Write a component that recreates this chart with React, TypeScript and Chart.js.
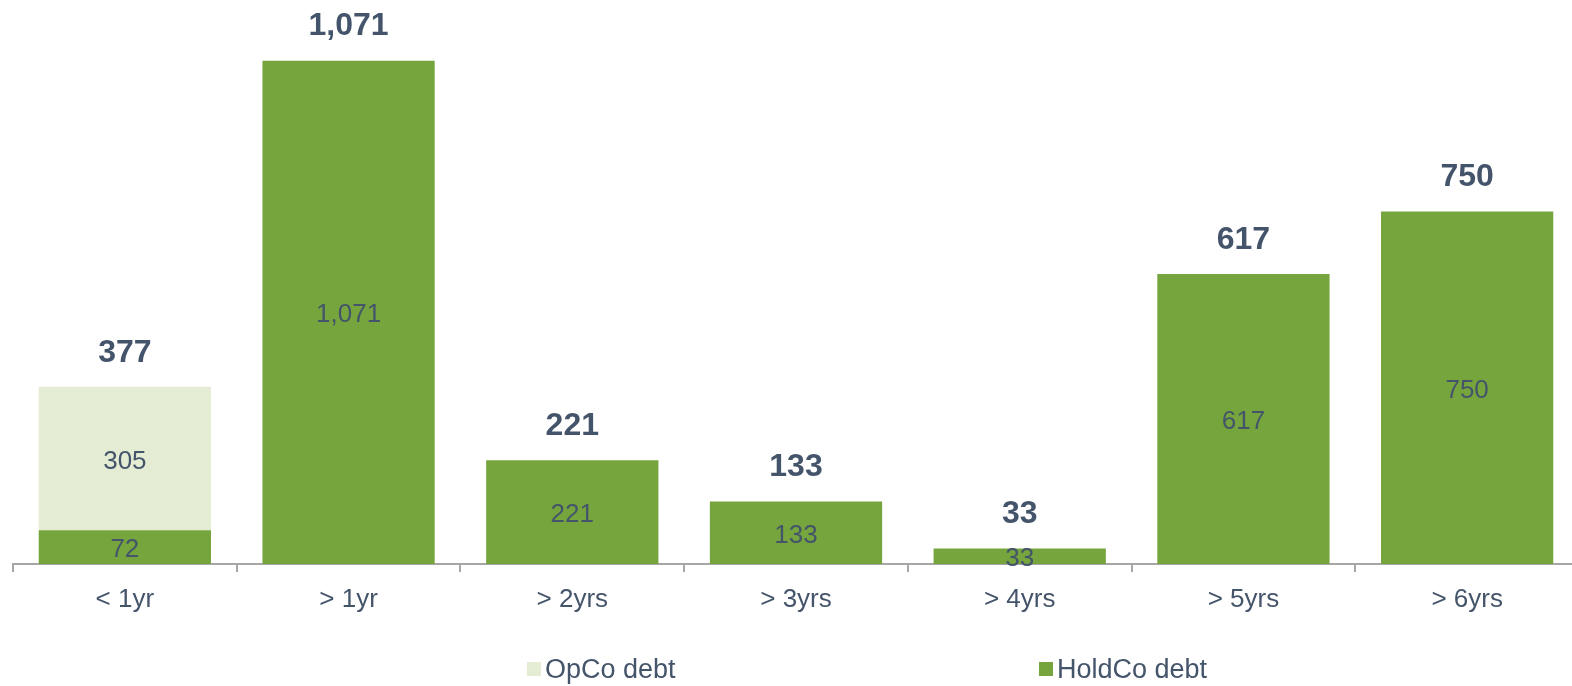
import React, { useEffect, useRef } from "react";
import { Chart, registerables } from "chart.js";

Chart.register(...registerables);

const categories = ["< 1yr", "> 1yr", "> 2yrs", "> 3yrs", "> 4yrs", "> 5yrs", "> 6yrs"];
const opcoDebt = [305, 0, 0, 0, 0, 0, 0];
const holdcoDebt = [72, 1071, 221, 133, 33, 617, 750];
const legendLabels = ["OpCo debt", "HoldCo debt"];

const GREEN = "#76a53d";
const LIGHT = "#e4ecd4";
const TEXT = "#44546a";
const AXIS = "#a6a6a6";
const FONT = "'Liberation Sans', Arial, sans-serif";

const fmt = (v: number) => v.toLocaleString("en-US");

const labelPlugin = {
  id: "barLabels",
  afterDatasetsDraw(chart: any) {
    const ctx = chart.ctx;
    ctx.save();
    ctx.textAlign = "center";
    ctx.textBaseline = "middle";
    ctx.fillStyle = TEXT;
    ctx.font = `26px ${FONT}`;
    chart.data.datasets.forEach((ds: any, di: number) => {
      const meta = chart.getDatasetMeta(di);
      meta.data.forEach((bar: any, i: number) => {
        const v = ds.data[i];
        if (!v) return;
        const top = bar.y;
        const bottom = bar.base;
        ctx.fillText(fmt(v), bar.x, (top + bottom) / 2 + 3);
      });
    });
    ctx.font = `bold 32px ${FONT}`;
    const yScale = chart.scales.y;
    const meta0 = chart.getDatasetMeta(0);
    categories.forEach((_, i) => {
      const total = opcoDebt[i] + holdcoDebt[i];
      const x = meta0.data[i].x;
      const y = yScale.getPixelForValue(total) - 34;
      ctx.fillText(fmt(total), x, y);
    });
    ctx.restore();
  },
  afterDraw(chart: any) {
    const ctx = chart.ctx;
    ctx.save();
    const items = [
      { label: legendLabels[0], color: LIGHT, x: 527 },
      { label: legendLabels[1], color: GREEN, x: 1039 },
    ];
    const cy = 669;
    ctx.font = `27px ${FONT}`;
    ctx.textBaseline = "middle";
    ctx.textAlign = "left";
    items.forEach((it) => {
      ctx.fillStyle = it.color;
      ctx.fillRect(it.x, cy - 7, 14, 14);
      ctx.fillStyle = TEXT;
      ctx.fillText(it.label, it.x + 18, cy + 2);
    });
    ctx.restore();
  },
};

export default function App() {
  const ref = useRef<HTMLCanvasElement>(null);
  useEffect(() => {
    if (!ref.current) return;
    const chart = new Chart(ref.current, {
      type: "bar",
      data: {
        labels: categories,
        datasets: [
          { label: legendLabels[1], data: holdcoDebt, backgroundColor: GREEN },
          { label: legendLabels[0], data: opcoDebt, backgroundColor: LIGHT },
        ],
      },
      options: {
        animation: false,
        responsive: false,
        maintainAspectRatio: false,
        layout: { padding: { left: 13, right: 21, top: 0, bottom: 0 } },
        plugins: {
          legend: { display: false },
          tooltip: { enabled: false },
        },
        datasets: {
          bar: { categoryPercentage: 1, barPercentage: 0.77 },
        },
        scales: {
          x: {
            stacked: true,
            grid: {
              offset: true,
              drawOnChartArea: false,
              drawTicks: true,
              tickLength: 8,
              color: AXIS,
              lineWidth: 2,
            },
            border: { display: true, color: AXIS, width: 2 },
            ticks: {
              color: TEXT,
              font: { family: FONT, size: 26 },
              padding: 12,
              maxRotation: 0,
              autoSkip: false,
            },
            afterFit(scale: any) {
              scale.height = 122;
            },
          },
          y: {
            stacked: true,
            display: false,
            min: 0,
            max: 1200,
          },
        },
      },
      plugins: [labelPlugin],
    });
    return () => chart.destroy();
  }, []);
  return (
    <div style={{ position: "fixed", left: 0, top: 0, width: 1600, height: 686, background: "#fff" }}>
      <canvas ref={ref} width={1600} height={686} style={{ display: "block" }} />
    </div>
  );
}
